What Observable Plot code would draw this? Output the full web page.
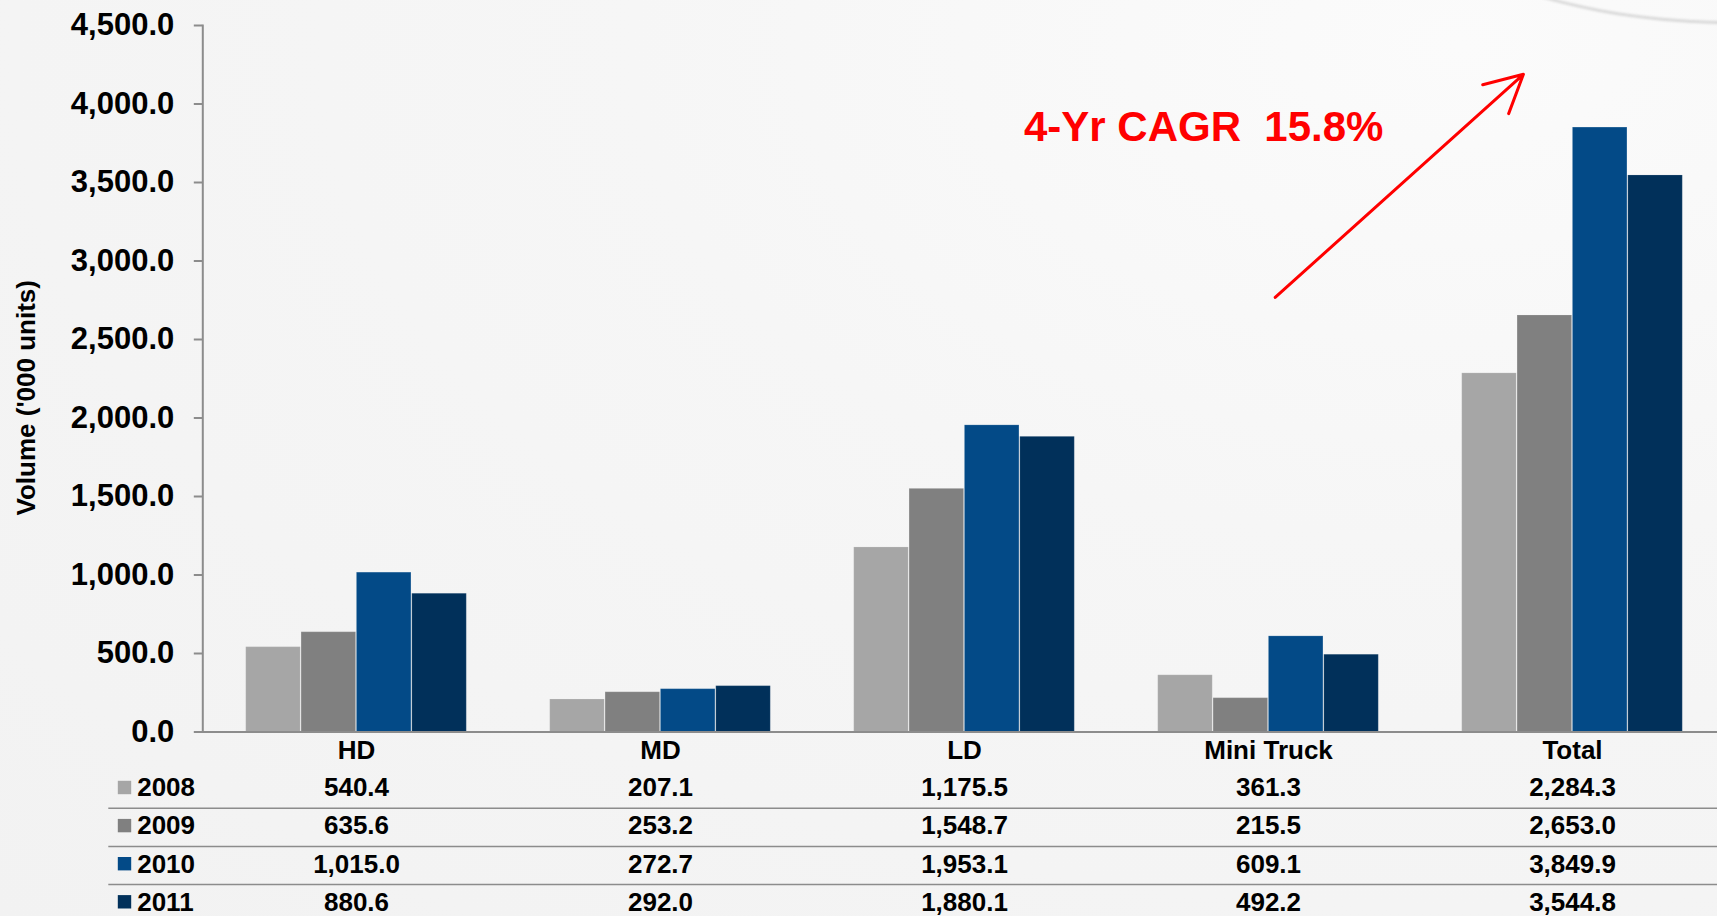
<!DOCTYPE html>
<html>
<head>
<meta charset="utf-8">
<script src="https://cdn.jsdelivr.net/npm/d3@7"></script>
<script src="https://cdn.jsdelivr.net/npm/@observablehq/plot@0.6"></script>
<style>
  html, body { margin: 0; padding: 0; overflow: hidden; }
  body {
    width: 1717px; height: 916px; position: relative;
    background: radial-gradient(ellipse at 85% 5%, #fbfbfb 0%, #f6f6f6 40%, #f2f2f2 100%);
    font-family: "Liberation Sans", Arial, sans-serif;
  }
  #swoosh {
    position: absolute; left: 1380px; top: -300px; width: 700px; height: 318px;
    border-radius: 50%; border: 3px solid transparent; border-bottom-color: #d9d9d9;
    filter: blur(1px);
  }
  #chart { position: absolute; left: 0; top: 0; }
  #chart svg text { white-space: pre; }
</style>
</head>
<body>
<div id="swoosh"></div>
<div id="chart"></div>
<script>
// ---- data ----
const categories = ["HD", "MD", "LD", "Mini Truck", "Total"];
const years = ["2008", "2009", "2010", "2011"];
const values2008 = [540.4, 207.1, 1175.5, 361.3, 2284.3];
const values2009 = [635.6, 253.2, 1548.7, 215.5, 2653.0];
const values2010 = [1015.0, 272.7, 1953.1, 609.1, 3849.9];
const values2011 = [880.6, 292.0, 1880.1, 492.2, 3544.8];
const yTicks = [0, 500, 1000, 1500, 2000, 2500, 3000, 3500, 4000, 4500];
const yLabel = "Volume ('000 units)";
const barColors = ["#a6a6a6", "#808080", "#034a87", "#01305a"];

// annotation (CAGR label and arrow), in data terms
const annotCategory = ["LD"];
const annotValue = [3850];
const annotText = ["4-Yr CAGR  15.8%"];
const arrowFromCategory = ["Mini Truck"];
const arrowFromValue = [2730];
const arrowToCategory = ["Total"];
const arrowToValue = [4470];

// ---- derived tables ----
const seriesValues = [values2008, values2009, values2010, values2011];
const rows = years.flatMap((yr, i) =>
  categories.map((cat, j) => ({cat, year: yr, value: seriesValues[i][j]})));
const annots = annotText.map((t, i) => ({cat: annotCategory[i], value: annotValue[i], text: t}));
const arrows = arrowFromCategory.map((c, i) => ({
  fromCat: c, fromValue: arrowFromValue[i], toCat: arrowToCategory[i], toValue: arrowToValue[i]
}));
const fmt = d3.format(",.1f");

// ---- layout constants (styles only) ----
const BAR = 55.35, GAP = 41.72;
const ROW0 = 56, ROWSTEP = 38.1;
const LINE0 = 76.2, LINESTEP = 38.2;
const AXIS_GRAY = "#8c8c8c";
const bold = "bold";

const marks = [];
years.forEach((yr, i) => {
  marks.push(Plot.barY(rows.filter(d => d.year === yr), {
    x: "cat", y: "value", fill: "year",
    insetLeft: GAP + i * BAR, insetRight: GAP + (years.length - 1 - i) * BAR,
    stroke: "#ffffff", strokeOpacity: 0.15, strokeWidth: 1
  }));
});
marks.push(Plot.ruleY([0], {stroke: AXIS_GRAY, strokeWidth: 2}));
marks.push(Plot.frame({anchor: "left", stroke: AXIS_GRAY, strokeWidth: 2}));
marks.push(Plot.axisY({
  ticks: yTicks, tickFormat: fmt, tickSize: 8.5, tickPadding: 20,
  stroke: AXIS_GRAY, strokeWidth: 2, fill: "#000", fontSize: 31, fontWeight: bold, label: null
}));
marks.push(Plot.axisX({
  tickSize: 0, tickPadding: 9, fill: "#000", fontSize: 26, fontWeight: bold, label: null
}));
marks.push(Plot.text([yLabel], {
  text: d => d, frameAnchor: "left", rotate: -90, dx: -176, dy: 19,
  textAnchor: "middle", lineAnchor: "middle", fontSize: 26, fontWeight: bold, fill: "#000"
}));

// data table under the chart
for (let i = 0; i < years.length - 1; i++) {
  marks.push(Plot.ruleY([0], {
    dy: LINE0 + i * LINESTEP, insetLeft: -94, stroke: AXIS_GRAY, strokeWidth: 1.5
  }));
}
years.forEach((yr, i) => {
  const dy = ROW0 + i * ROWSTEP;
  marks.push(Plot.dot([yr], {
    frameAnchor: "bottom-left", dx: -78.3, dy: dy - 0.5,
    symbol: "square", r: 7.56, fill: d => d
  }));
  marks.push(Plot.text([yr], {
    text: d => d, frameAnchor: "bottom-left", dx: -65.6, dy,
    textAnchor: "start", lineAnchor: "middle", fontSize: 26, fontWeight: bold, fill: "#000"
  }));
  marks.push(Plot.text(rows.filter(d => d.year === yr), {
    x: "cat", text: d => fmt(d.value), frameAnchor: "bottom", dy,
    textAnchor: "middle", lineAnchor: "middle", fontSize: 26, fontWeight: bold, fill: "#000"
  }));
});

// annotation
marks.push(Plot.arrow(arrows, {
  x1: "fromCat", y1: "fromValue", x2: "toCat", y2: "toValue",
  stroke: "#ff0000", strokeWidth: 3, headLength: 21, headAngle: 55,
  insetStart: 9, insetEnd: 66
}));
marks.push(Plot.text(annots, {
  x: "cat", y: "value", text: "text", dx: 59.5,
  textAnchor: "start", lineAnchor: "middle", fill: "#ff0000", fontSize: 42, fontWeight: bold
}));

const chart = Plot.plot({
  width: 1717, height: 916,
  marginLeft: 202.3, marginRight: -9.5, marginTop: 25, marginBottom: 184.5,
  x: {type: "band", domain: categories, paddingInner: 0, paddingOuter: 0},
  y: {domain: [0, 4500]},
  color: {domain: years, range: barColors},
  style: {
    background: "transparent", fontFamily: "'Liberation Sans', Arial, sans-serif",
    fontWeight: "bold", color: "#000", maxWidth: "none", overflow: "hidden"
  },
  marks
});
document.getElementById("chart").appendChild(chart);
</script>
</body>
</html>
